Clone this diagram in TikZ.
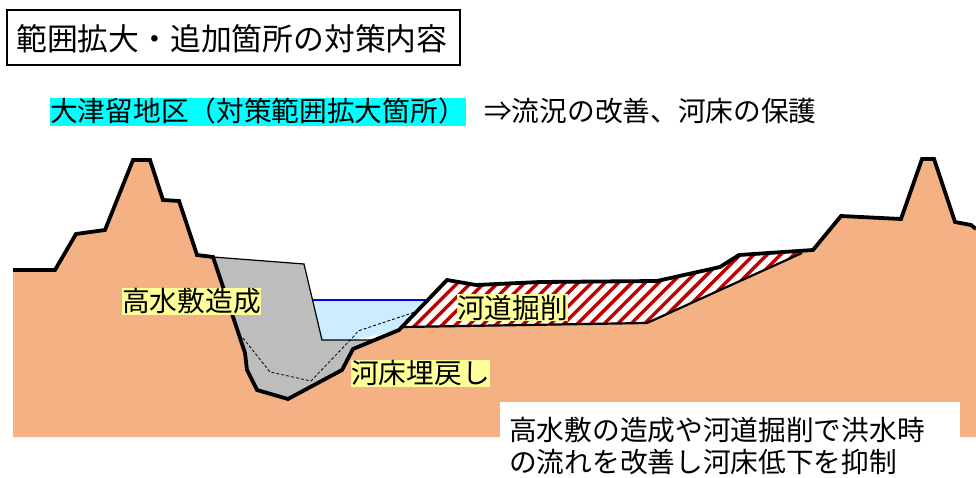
\documentclass[tikz,border=0pt]{standalone}
\usepackage{fontspec}
\setmainfont{Noto Sans CJK JP}
\definecolor{ground}{HTML}{F4B183}
\definecolor{fillgray}{HTML}{BDBDBD}
\definecolor{water}{HTML}{CCECFF}
\definecolor{hatchred}{HTML}{C00000}
\definecolor{labelyellow}{HTML}{FFFF99}
\definecolor{barcyan}{HTML}{00FFFF}
\tikzset{
  terrain/.style={draw=black,line width=3.8pt,line join=miter},
  thinline/.style={draw=black,line width=1.2pt},
  lbl/.style={fill=labelyellow,inner sep=0pt,minimum height=27pt,font=\fontsize{27.7}{30}\selectfont,text=black},
  txt/.style={inner sep=0pt,font=\fontsize{27.7}{30}\selectfont,text=black},
}
\begin{document}
\begin{tikzpicture}[x=1pt,y=-1pt]
\useasboundingbox (0,0) rectangle (976,478);
% ground
\fill[ground] (13,270)--(55,270)--(76,234)--(105,230)--(133,160)--(150,160)--(163,200)--(179,201)--(197,255)--(213,257)--(304,264)--(322,340)--(370,340)--(399,330)--(447,280)--(476,285)--(540,282)--(657,281)--(720,267)--(739,255)--(813,250)--(841,216)--(901,219)--(922,159)--(934,159)--(955,222)--(971,225)--(976,229)--(976,437)--(13,437)--cycle;
% water
\fill[water] (313,300)--(432,300)--(399,330)--(353,340)--(322,340)--cycle;
\draw[blue,line width=1.3pt] (313,300)--(431,300);
% fill material
\path[fill=fillgray] (213,257)--(304,264)--(322,340)--(373,340)--(353,349)--(342,370)--(288,399)--(257,390)--(247,370)--(245,353)--cycle;
\draw[thinline] (213,257)--(304,264)--(322,340)--(373,340);
% excavation hatch
\begin{scope}
\clip (403,327)--(447,280)--(476,285)--(540,282)--(657,281)--(720,267)--(739,255)--(806,251)--(647,323)--cycle;
\fill[white] (400,250) rectangle (810,330);
\foreach \i in {0,...,34}{
  \draw[hatchred,line width=3.4pt] ({392+\i*13.4},335)--({392+\i*13.4+85},250);
}
\end{scope}
\draw[black,line width=2.2pt] (403,327)--(647,323)--(802,253);
% dashed old bed
\draw[black,line width=0.8pt,dash pattern=on 3pt off 2pt] (243,338)--(270,372)--(311,381)--(355,335)--(358,331)--(415,312);
% terrain outline
\draw[terrain] (13,270)--(55,270)--(76,234)--(105,230)--(133,160)--(150,160)--(163,200)--(179,201)--(197,255)--(213,257)--(245,353)--(247,370)--(257,390)--(288,399)--(342,370)--(353,349)--(399,330)--(447,280)--(476,285)--(540,282)--(657,281)--(720,267)--(739,255)--(813,250)--(841,216)--(901,219)--(922,159)--(934,159)--(955,222)--(971,225)--(976,229);
% white note background
\fill[white] (500,402) rectangle (960,478);
% title
\node[draw=black,line width=1.4pt,minimum width=453pt,minimum height=55pt,inner sep=0pt] (title) at (233.5,37.5) {};
\node[txt,font=\fontsize{30.8}{32}\selectfont,anchor=west] (titletext) at (16,39) {範囲拡大・追加箇所の対策内容};
% heading
\fill[barcyan] (50,98) rectangle (466,126);
\node[txt,anchor=west] (district) at (50,111) {大津留地区（対策範囲拡大箇所）};
\node[txt,anchor=west] (effect) at (484,111) {⇒流況の改善、河床の保護};
% labels
\node[lbl] (l1) at (191.5,301.5) {高水敷造成};
\node[lbl] (l2) at (512.5,307.5) {河道掘削};
\node[lbl] (l3) at (420.5,373.5) {河床埋戻し};
% note
\node[txt,anchor=north west,align=left,font=\fontsize{27.7}{32}\selectfont] (note) at (509,417) {高水敷の造成や河道掘削で洪水時\\の流れを改善し河床低下を抑制};
\end{tikzpicture}
\end{document}
